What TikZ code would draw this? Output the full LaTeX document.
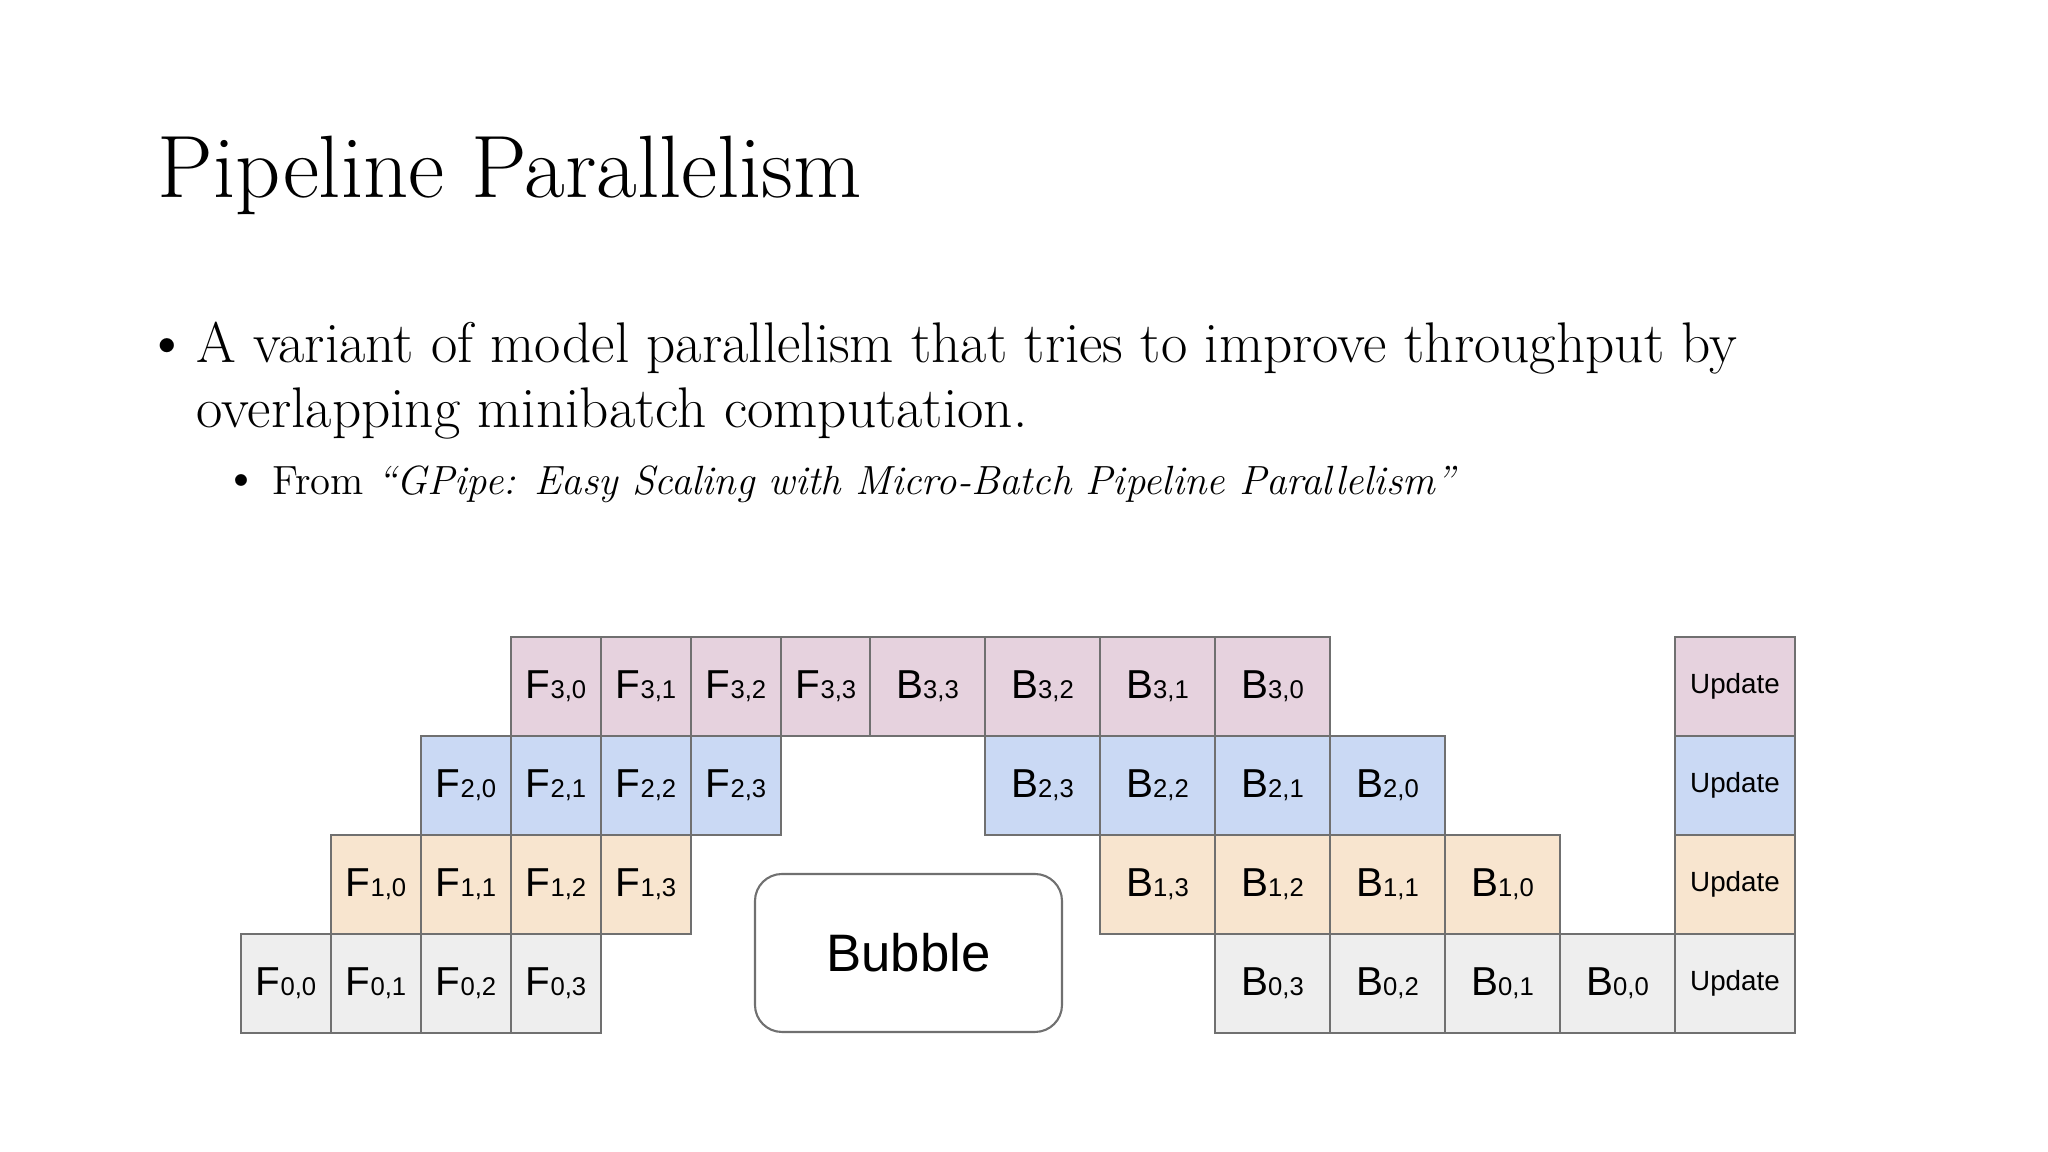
\documentclass[tikz,border=0pt]{standalone}
\usepackage{fontspec}
\newfontfamily\cellfont{Liberation Sans}
\definecolor{stagethree}{HTML}{E6D2DE}
\definecolor{stagetwo}{HTML}{CAD9F4}
\definecolor{stageone}{HTML}{F8E5CF}
\definecolor{stagezero}{HTML}{EEEEEE}
\definecolor{cellline}{HTML}{707070}
\newcommand{\op}[2]{{\fontsize{11.5}{12}\selectfont #1}{\fontsize{7.3}{8}\selectfont #2}}

\begin{document}
\begin{tikzpicture}[
    cell/.style={draw=cellline, line width=0.6pt, minimum height=0.99cm, inner sep=0pt, font=\cellfont},
    fcell/.style={cell, minimum width=0.9cm},
    bcell/.style={cell, minimum width=1.15cm},
    upcell/.style={cell, minimum width=1.2cm, font=\cellfont\fontsize{7.9}{9}\selectfont},
    txt/.style={anchor=base west, inner sep=0pt}
  ]
    \useasboundingbox (0,0) rectangle (20.48,11.52);
    % title and bullets
    \node[txt, font=\fontsize{25.2}{30}\selectfont] (title) at (1.57,9.54) {Pipeline Parallelism};
    \node[txt, font=\fontsize{18}{22}\selectfont] (dot1) at (1.44,7.89) {\textbullet};
    \node[txt, font=\fontsize{16.3}{19}\selectfont] (line1) at (1.96,7.89) {A variant of model parallelism that tries to improve throughput by};
    \node[txt, font=\fontsize{16.3}{19}\selectfont] (line2) at (1.96,7.24) {overlapping minibatch computation.};
    \node[txt, font=\fontsize{15}{18}\selectfont] (dot2) at (2.22,6.57) {\textbullet};
    \node[txt, font=\fontsize{11.6}{14}\selectfont] (line3) at (2.72,6.57) {From \textit{``GPipe: Easy Scaling with Micro-Batch Pipeline Parallelism''}};
    % stage 3
    \node[fcell, fill=stagethree] (f30) at (5.56,4.655) {\op{F}{3,0}};
    \node[fcell, fill=stagethree] (f31) at (6.46,4.655) {\op{F}{3,1}};
    \node[fcell, fill=stagethree] (f32) at (7.36,4.655) {\op{F}{3,2}};
    \node[fcell, fill=stagethree] (f33) at (8.26,4.655) {\op{F}{3,3}};
    \node[bcell, fill=stagethree] (b33) at (9.275,4.655) {\op{B}{3,3}};
    \node[bcell, fill=stagethree] (b32) at (10.425,4.655) {\op{B}{3,2}};
    \node[bcell, fill=stagethree] (b31) at (11.575,4.655) {\op{B}{3,1}};
    \node[bcell, fill=stagethree] (b30) at (12.725,4.655) {\op{B}{3,0}};
    \node[upcell, fill=stagethree] (up3) at (17.35,4.655) {Update};
    % stage 2
    \node[fcell, fill=stagetwo] (f20) at (4.66,3.665) {\op{F}{2,0}};
    \node[fcell, fill=stagetwo] (f21) at (5.56,3.665) {\op{F}{2,1}};
    \node[fcell, fill=stagetwo] (f22) at (6.46,3.665) {\op{F}{2,2}};
    \node[fcell, fill=stagetwo] (f23) at (7.36,3.665) {\op{F}{2,3}};
    \node[bcell, fill=stagetwo] (b23) at (10.425,3.665) {\op{B}{2,3}};
    \node[bcell, fill=stagetwo] (b22) at (11.575,3.665) {\op{B}{2,2}};
    \node[bcell, fill=stagetwo] (b21) at (12.725,3.665) {\op{B}{2,1}};
    \node[bcell, fill=stagetwo] (b20) at (13.875,3.665) {\op{B}{2,0}};
    \node[upcell, fill=stagetwo] (up2) at (17.35,3.665) {Update};
    % stage 1
    \node[fcell, fill=stageone] (f10) at (3.76,2.675) {\op{F}{1,0}};
    \node[fcell, fill=stageone] (f11) at (4.66,2.675) {\op{F}{1,1}};
    \node[fcell, fill=stageone] (f12) at (5.56,2.675) {\op{F}{1,2}};
    \node[fcell, fill=stageone] (f13) at (6.46,2.675) {\op{F}{1,3}};
    \node[bcell, fill=stageone] (b13) at (11.575,2.675) {\op{B}{1,3}};
    \node[bcell, fill=stageone] (b12) at (12.725,2.675) {\op{B}{1,2}};
    \node[bcell, fill=stageone] (b11) at (13.875,2.675) {\op{B}{1,1}};
    \node[bcell, fill=stageone] (b10) at (15.025,2.675) {\op{B}{1,0}};
    \node[upcell, fill=stageone] (up1) at (17.35,2.675) {Update};
    % stage 0
    \node[fcell, fill=stagezero] (f00) at (2.86,1.685) {\op{F}{0,0}};
    \node[fcell, fill=stagezero] (f01) at (3.76,1.685) {\op{F}{0,1}};
    \node[fcell, fill=stagezero] (f02) at (4.66,1.685) {\op{F}{0,2}};
    \node[fcell, fill=stagezero] (f03) at (5.56,1.685) {\op{F}{0,3}};
    \node[bcell, fill=stagezero] (b03) at (12.725,1.685) {\op{B}{0,3}};
    \node[bcell, fill=stagezero] (b02) at (13.875,1.685) {\op{B}{0,2}};
    \node[bcell, fill=stagezero] (b01) at (15.025,1.685) {\op{B}{0,1}};
    \node[bcell, fill=stagezero] (b00) at (16.175,1.685) {\op{B}{0,0}};
    \node[upcell, fill=stagezero] (up0) at (17.35,1.685) {Update};
    % idle time
    \node[draw=cellline, line width=0.6pt, rounded corners=0.27cm, minimum width=3.07cm, minimum height=1.58cm,
          font=\cellfont\fontsize{15}{18}\selectfont] (bubble) at (9.085,1.99) {Bubble};
\end{tikzpicture}
\end{document}
